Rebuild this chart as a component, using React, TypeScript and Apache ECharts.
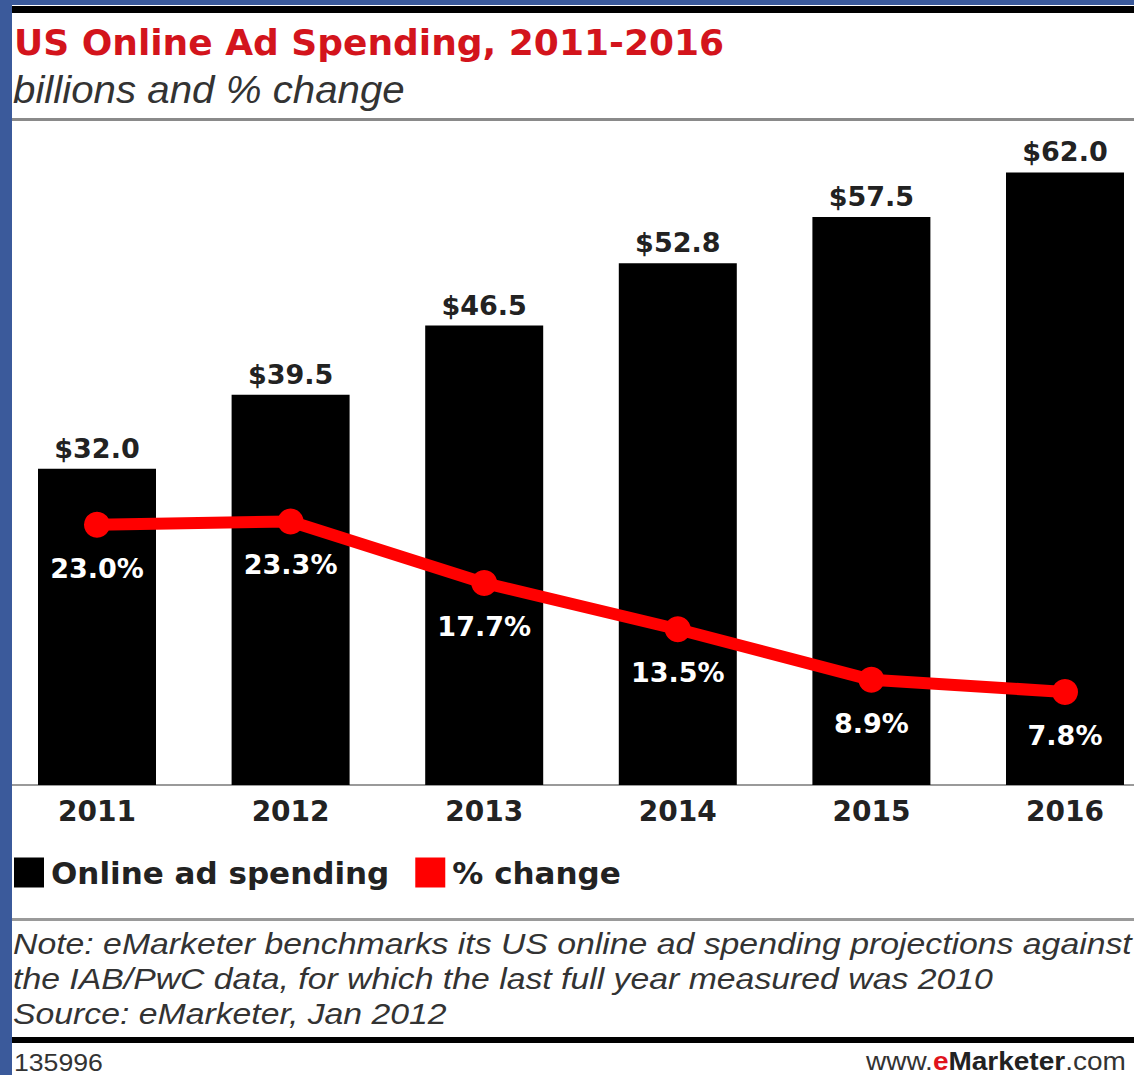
import React, { useEffect, useRef } from "react";
import * as echarts from "echarts";

const years = ["2011", "2012", "2013", "2014", "2015", "2016"];
const spending = [32.0, 39.5, 46.5, 52.8, 57.5, 62.0];
const pctChange = [23.0, 23.3, 17.7, 13.5, 8.9, 7.8];
const titleText = "US Online Ad Spending, 2011-2016";
const subtitleText = "billions and % change";
const noteLines = [
  "Note: eMarketer benchmarks its US online ad spending projections against",
  "the IAB/PwC data, for which the last full year measured was 2010",
  "Source: eMarketer, Jan 2012",
];
const chartId = "135996";

const BOLD = "'DejaVu Sans', Verdana, sans-serif";
const SANS = "'Liberation Sans', Arial, sans-serif";

export default function App() {
  const ref = useRef<HTMLDivElement>(null);
  useEffect(() => {
    if (!ref.current) return;
    const chart = echarts.init(ref.current, null, { renderer: "svg" });
    const W = 1134;
    chart.setOption({
      animation: false,
      backgroundColor: "#ffffff",
      grid: { left: 97, right: 69, top: 130, height: 655 },
      legend: {
        left: 14,
        top: 857,
        padding: 0,
        itemWidth: 30,
        itemHeight: 30,
        itemGap: 26,
        selectedMode: false,
        textStyle: {
          fontFamily: BOLD,
          fontWeight: "bold",
          fontSize: 31,
          color: "#222",
          padding: [0, 0, 0, 2],
        },
        data: [
          { name: "Online ad spending", icon: "rect" },
          { name: "% change", icon: "rect" },
        ],
      },
      xAxis: {
        type: "category",
        data: years,
        boundaryGap: false,
        axisLine: { show: false },
        axisTick: { show: false },
        splitLine: { show: false },
        axisLabel: {
          margin: 12,
          fontFamily: BOLD,
          fontWeight: "bold",
          fontSize: 28,
          color: "#222",
        },
      },
      yAxis: [
        { type: "value", min: 0, max: 66.3, show: false, splitLine: { show: false } },
        { type: "value", min: -0.66, max: 58.88, show: false, splitLine: { show: false } },
      ],
      series: [
        {
          name: "Online ad spending",
          type: "bar",
          data: spending,
          barWidth: 118,
          clip: false,
          itemStyle: { color: "#000000" },
          label: {
            show: true,
            position: "top",
            distance: 7,
            formatter: (p: any) => "$" + Number(p.value).toFixed(1),
            fontFamily: BOLD,
            fontWeight: "bold",
            fontSize: 27,
            color: "#222",
          },
        },
        {
          name: "% change",
          type: "line",
          yAxisIndex: 1,
          data: pctChange,
          clip: false,
          symbol: "circle",
          symbolSize: 26,
          lineStyle: { color: "#ff0000", width: 12 },
          itemStyle: { color: "#ff0000" },
          label: {
            show: true,
            position: "bottom",
            distance: 17,
            formatter: (p: any) => Number(p.value).toFixed(1) + "%",
            fontFamily: BOLD,
            fontWeight: "bold",
            fontSize: 27,
            color: "#ffffff",
          },
        },
      ],
      graphic: [
        { type: "rect", shape: { x: 12, y: 784, width: W, height: 2 }, style: { fill: "#9a9a9a" }, z: 1 },
        { type: "rect", shape: { x: 0, y: 0, width: W, height: 5 }, style: { fill: "#3b5a9b" }, z: 100 },
        { type: "rect", shape: { x: 0, y: 6, width: W, height: 7 }, style: { fill: "#000" }, z: 99 },
        { type: "rect", shape: { x: 0, y: 0, width: 12, height: 1075 }, style: { fill: "#3b5a9b" }, z: 100 },
        { type: "rect", shape: { x: 12, y: 118, width: W, height: 3 }, style: { fill: "#8a8a8a" }, z: 99 },
        { type: "rect", shape: { x: 12, y: 918, width: W, height: 3 }, style: { fill: "#9a9a9a" }, z: 99 },
        { type: "rect", shape: { x: 12, y: 1037, width: W, height: 6 }, style: { fill: "#000" }, z: 99 },
        {
          type: "text",
          x: 14,
          y: 42,
          style: {
            text: titleText,
            fill: "#d3141c",
            font: `bold 36px ${BOLD}`,
            textVerticalAlign: "middle",
          },
          z: 99,
        },
        {
          type: "text",
          x: 13,
          y: 90,
          scaleX: 1.06,
          style: {
            text: subtitleText,
            fill: "#333",
            font: `italic 38px ${SANS}`,
            textVerticalAlign: "middle",
          },
          z: 99,
        },
        {
          type: "text",
          x: 13,
          y: 927,
          scaleX: 1.165,
          style: {
            text: noteLines.join("\n"),
            fill: "#333",
            font: `italic 29px ${SANS}`,
            lineHeight: 35,
            textVerticalAlign: "top",
          },
          z: 99,
        },
        {
          type: "text",
          x: 14,
          y: 1062,
          scaleX: 1.11,
          style: {
            text: chartId,
            fill: "#333",
            font: `24px ${SANS}`,
            textVerticalAlign: "middle",
          },
          z: 99,
        },
        {
          type: "text",
          x: 866,
          y: 1062,
          scaleX: 1.12,
          style: {
            text: "{a|www.}{e|e}{m|Marketer}{a|.com}",
            textVerticalAlign: "middle",
            rich: {
              a: { fontFamily: SANS, fontSize: 25, fill: "#333" },
              e: { fontFamily: SANS, fontSize: 25, fontWeight: "bold", fill: "#e0141c" },
              m: { fontFamily: SANS, fontSize: 25, fontWeight: "bold", fill: "#222" },
            },
          },
          z: 99,
        },
      ],
    });
    return () => chart.dispose();
  }, []);
  return (
    <div
      ref={ref}
      style={{ position: "absolute", left: 0, top: 0, width: 1134, height: 1075 }}
    />
  );
}
